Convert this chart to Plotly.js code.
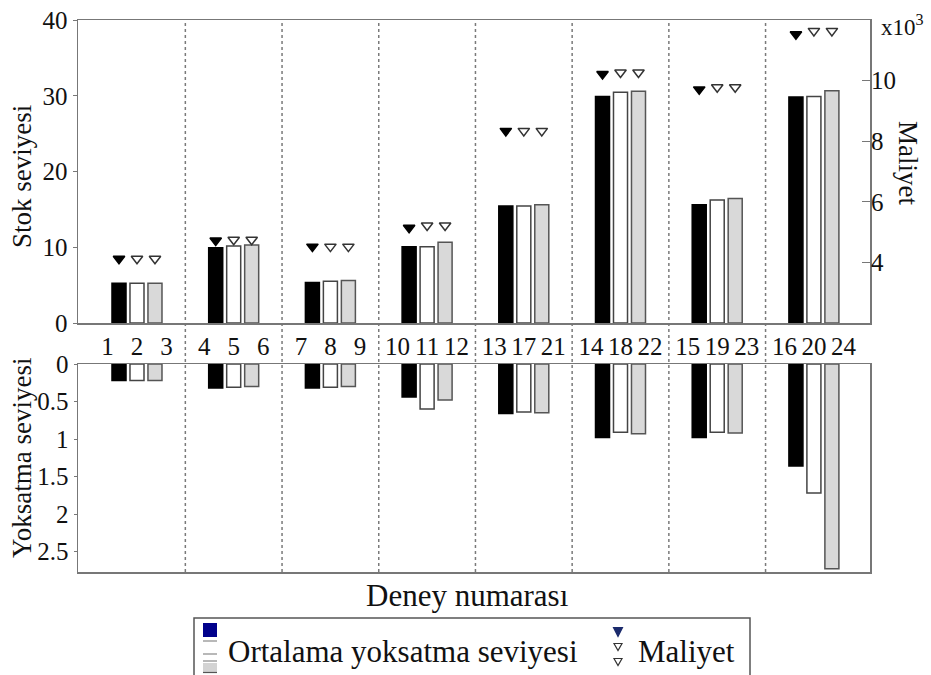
<!DOCTYPE html>
<html>
<head>
<meta charset="utf-8">
<script src="https://cdn.plot.ly/plotly-3.0.1.min.js"></script>
<style>html,body{margin:0;padding:0;background:#fff;}#chart{width:931px;height:675px;}</style>
</head>
<body>
<div id="chart"></div>
<script>
// ---------------- DATA ----------------
const groups = [1, 2, 3, 4, 5, 6, 7, 8];
const expLabels = ["1","2","3","4","5","6","7","8","9","10","11","12",
                   "13","17","21","14","18","22","15","19","23","16","20","24"];
// Stok seviyesi (left axis)
const stokBlack = [5.25, 9.95, 5.35, 10.05, 15.45, 29.9, 15.6, 29.85];
const stokWhite = [5.25, 10.15, 5.5, 10.05, 15.45, 30.45, 16.25, 29.9];
const stokGray  = [5.25, 10.3, 5.6, 10.65, 15.6, 30.6, 16.45, 30.65];
// Maliyet (x10^3, right axis)
const costBlack = [4.12, 4.72, 4.52, 5.14, 8.34, 10.22, 9.71, 11.53];
const costWhite = [4.12, 4.75, 4.52, 5.22, 8.34, 10.27, 9.78, 11.64];
const costGray  = [4.12, 4.75, 4.52, 5.22, 8.34, 10.27, 9.78, 11.64];
// Yoksatma seviyesi (bottom panel)
const yokBlack = [0.22, 0.32, 0.32, 0.44, 0.66, 0.98, 0.98, 1.36];
const yokWhite = [0.22, 0.31, 0.31, 0.60, 0.64, 0.91, 0.91, 1.72];
const yokGray  = [0.22, 0.30, 0.30, 0.48, 0.65, 0.93, 0.92, 2.73];
const leftTicks = [0, 10, 20, 30, 40];
const rightTicks = [4, 6, 8, 10];
const yokTicks = [0, 0.5, 1, 1.5, 2, 2.5];
const yokTickText = ["0", "0.5", "1", "1.5", "2", "2.5"];

// ---------------- STYLE / LAYOUT ----------------
const FONT = '"Liberation Serif", "Times New Roman", Times, serif';
const slot = 0.186, barW = 0.145, labelSpread = 0.305;
const styles = [
  {fill: "#000000", line: "#000000", mfill: "#000000", mline: "#000000"},
  {fill: "#ffffff", line: "#444444", mfill: "#ffffff", mline: "#333333"},
  {fill: "#d9d9d9", line: "#555555", mfill: "#ffffff", mline: "#333333"}
];
const stok = [stokBlack, stokWhite, stokGray];
const cost = [costBlack, costWhite, costGray];
const yok = [yokBlack, yokWhite, yokGray];

const traces = [];
[0, 1, 2].forEach(k => {
  const xs = groups.map(g => g + (k - 1) * slot);
  const st = styles[k];
  traces.push({type: "bar", x: xs, y: stok[k], width: barW, xaxis: "x", yaxis: "y",
    marker: {color: st.fill, line: {color: st.line, width: 1.5}}, showlegend: false, hoverinfo: "y"});
  traces.push({type: "bar", x: xs, y: yok[k], width: barW, xaxis: "x2", yaxis: "y3",
    marker: {color: st.fill, line: {color: st.line, width: 1.5}}, showlegend: false, hoverinfo: "y"});
  traces.push({type: "scatter", mode: "markers", x: xs, y: cost[k], xaxis: "x", yaxis: "y2",
    marker: {symbol: "triangle-down", size: 10, color: st.mfill, line: {color: st.mline, width: 1.5}},
    showlegend: false, hoverinfo: "y"});
});

const labelPos = [];
groups.forEach(g => [-1, 0, 1].forEach(k => labelPos.push(g + k * labelSpread)));

// pixel -> paper helpers (plot area geometry)
const ML = 78, MR = 61, MT = 20, MB = 103, FW = 931, FH = 675;
const PW = FW - ML - MR, PH = FH - MT - MB;
const px = p => (p - ML) / PW;
const py = p => (MT + PH - p) / PH;

const AX = "#777777";
const shapes = [];
groups.slice(0, -1).forEach(g => {
  shapes.push({type: "line", xref: "x", yref: "paper", x0: g + 0.5, x1: g + 0.5, y0: 0, y1: 1,
    line: {color: "#7a7a7a", width: 1.5, dash: "dot"}, layer: "below"});
});
// custom legend box
shapes.push({type: "rect", xref: "paper", yref: "paper", x0: px(194), x1: px(750), y0: py(690), y1: py(618),
  line: {color: "#555555", width: 1.5}, fillcolor: "#ffffff"});
// bar icon stack
shapes.push({type: "rect", xref: "paper", yref: "paper", x0: px(203), x1: px(217), y0: py(637), y1: py(623),
  line: {width: 0}, fillcolor: "#00008b"});
[641, 654, 661].forEach(yy => shapes.push({type: "line", xref: "paper", yref: "paper",
  x0: px(203), x1: px(217), y0: py(yy), y1: py(yy), line: {color: "#888888", width: 1.2}}));
shapes.push({type: "rect", xref: "paper", yref: "paper", x0: px(203), x1: px(217), y0: py(672), y1: py(663),
  line: {width: 0}, fillcolor: "#d3d3d3"});
shapes.push({type: "line", xref: "paper", yref: "paper", x0: px(203), x1: px(217), y0: py(672.5), y1: py(672.5),
  line: {color: "#555555", width: 1.2}});
// triangle icons
function tri(cx, cy, w, h, fill, line) {
  const p = `M ${px(cx - w / 2)},${py(cy - h / 2)} L ${px(cx + w / 2)},${py(cy - h / 2)} L ${px(cx)},${py(cy + h / 2)} Z`;
  return {type: "path", xref: "paper", yref: "paper", path: p, fillcolor: fill, line: {color: line, width: 1.2}};
}
shapes.push(tri(618, 632, 9, 9, "#1a2a6c", "#1a2a6c"));
shapes.push(tri(618, 647, 8, 7, "#ffffff", "#333333"));
shapes.push(tri(618, 662, 8, 7, "#ffffff", "#333333"));

function ann(xp, yp, text, size, extra) {
  return Object.assign({xref: "paper", yref: "paper", x: px(xp), y: py(yp), text: text, showarrow: false,
    xanchor: "center", yanchor: "middle", font: {family: FONT, size: size, color: "#111"}}, extra || {});
}
const annotations = [
  ann(22, 177, "Stok seviyesi", 27, {textangle: -90}),
  ann(22, 458, "Yoksatma seviyesi", 27, {textangle: -90}),
  ann(908, 163, "Maliyet", 27, {textangle: 90}),
  ann(879, 25, "x10<sup>3</sup>", 23, {xanchor: "left"}),
  ann(467, 595, "Deney numarası", 31),
  ann(226, 651, "Ortalama yoksatma seviyesi", 31, {xanchor: "left"}),
  ann(636, 651, "Maliyet", 31, {xanchor: "left"})
];

const xr = [0.39, 8.58];
const layout = {
  width: FW, height: FH,
  margin: {l: ML, r: MR, t: MT, b: MB, pad: 0},
  paper_bgcolor: "#ffffff", plot_bgcolor: "#ffffff",
  font: {family: FONT, size: 25, color: "#111"},
  showlegend: false,
  barmode: "overlay",
  xaxis: {domain: [0, 1], anchor: "y", range: xr, tickmode: "array", tickvals: labelPos, ticktext: expLabels,
    ticks: "", tickangle: 0, showline: true, mirror: true, linecolor: AX, linewidth: 1.5,
    showgrid: false, zeroline: false, tickfont: {family: FONT, size: 25, color: "#111"}},
  yaxis: {domain: [py(323), 1], anchor: "x", range: [0, 40], tickmode: "array", tickvals: leftTicks,
    ticks: "outside", ticklen: 4, tickcolor: AX, showline: true, mirror: true, linecolor: AX, linewidth: 1.5,
    showgrid: false, zeroline: false, tickfont: {family: FONT, size: 25, color: "#111"}},
  yaxis2: {overlaying: "y", side: "right", anchor: "x", range: [2, 12], tickmode: "array", tickvals: rightTicks,
    ticks: "inside", ticklen: 8, tickcolor: AX, showline: false, showgrid: false, zeroline: false,
    tickfont: {family: FONT, size: 25, color: "#111"}},
  xaxis2: {domain: [0, 1], anchor: "y3", range: xr, showticklabels: false, ticks: "", showline: true, mirror: true,
    linecolor: AX, linewidth: 1.5, showgrid: false, zeroline: false},
  yaxis3: {domain: [0, py(364)], anchor: "x2", range: [2.773, 0], tickmode: "array", tickvals: yokTicks,
    ticktext: yokTickText, ticks: "outside", ticklen: 3, tickcolor: AX, showline: true, mirror: true,
    linecolor: AX, linewidth: 1.5, showgrid: false, zeroline: false, tickfont: {family: FONT, size: 25, color: "#111"}},
  shapes: shapes,
  annotations: annotations
};

Plotly.newPlot("chart", traces, layout, {displayModeBar: false, staticPlot: true});
</script>
</body>
</html>
